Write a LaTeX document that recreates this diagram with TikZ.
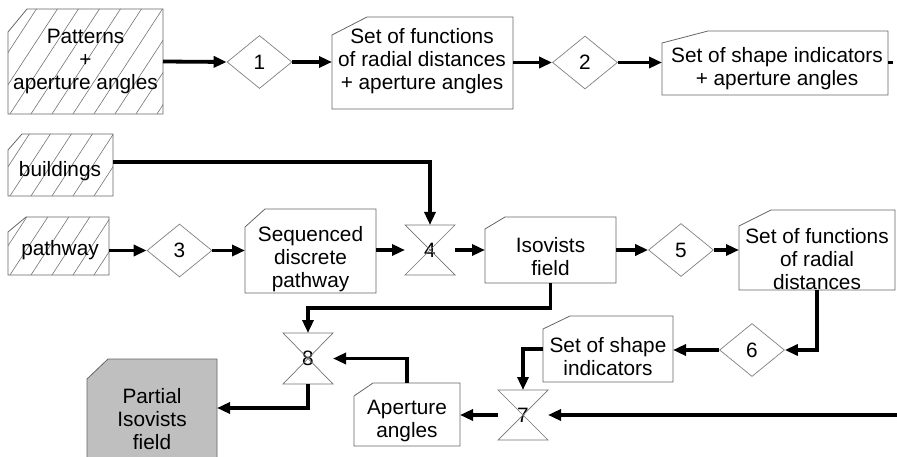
\documentclass[tikz,border=0pt]{standalone}
\usepackage{fontspec}
\setmainfont{Liberation Sans}
\usetikzlibrary{shapes.geometric,arrows.meta,calc}

\tikzset{
  boxline/.style={draw=black!60, line width=0.8pt, fill=white},
  geom/.style={rectangle, draw=none, inner sep=0pt, outer sep=0pt},
  txt/.style={align=center, inner sep=0pt, font=\fontsize{20.8}{23}\selectfont},
  dia/.style={diamond, draw=black!50, line width=0.7pt, fill=white, inner sep=0pt,
              minimum width=65pt, minimum height=53pt, font=\fontsize{20.8}{23}\selectfont},
  hg/.style={geom, minimum width=50pt, minimum height=50pt, font=\fontsize{20.8}{23}\selectfont},
  hgline/.style={draw=black!55, line width=0.7pt},
  flow/.style={line width=3.8pt, -{Triangle[length=13pt,width=11pt]}},
  hatchline/.style={draw=black!55, line width=0.6pt},
}

% #1 name, #2 x1, #3 y1, #4 x2, #5 y2, #6 chamfer dx, #7 chamfer dy, #8 extra style
\newcommand\chamferbox[8]{%
  \path[boxline,#8] (#2,#3+#7) -- (#2+#6,#3) -- (#4,#3) -- (#4,#5) -- (#2,#5) -- cycle;
  \node[geom, minimum width={(#4-#2)*1pt}, minimum height={(#5-#3)*1pt}] (#1)
       at ({(#2+#4)/2},{(#3+#5)/2}) {};
}
% hatching inside a chamfered box
\newcommand\hatchbox[6]{%
  \begin{scope}
    \clip (#1,#2+#6) -- (#1+#5,#2) -- (#3,#2) -- (#3,#4) -- (#1,#4) -- cycle;
    \foreach \k in {-6,...,9} \draw[hatchline] ({#1+\k*21},{#4+3}) -- ++(90,-138);
  \end{scope}
}

\begin{document}
\begin{tikzpicture}[x=1pt,y=-1pt]
\useasboundingbox (0,0) rectangle (897,457);

% ---- boxes ----
\chamferbox{pat}{8}{9}{163}{114}{19}{23}{}
\hatchbox{8}{9}{163}{114}{19}{23}
\node[txt] (pat-t) at (85.5,62) {Patterns\\+\\aperture angles};

\chamferbox{sf1}{332}{17}{513}{109}{35}{18}{}
\node[txt] (sf1-t) at (422,61) {Set of functions\\of radial distances\\+ aperture angles};

\chamferbox{sh1}{662}{31}{888}{95}{46}{12}{}
\node[txt] (sh1-t) at (777,69) {Set of shape indicators\\+ aperture angles};

\chamferbox{bld}{8}{134}{113}{196}{14}{16}{}
\hatchbox{8}{134}{113}{196}{14}{16}
\node[txt] (bld-t) at (60,171) {buildings};

\chamferbox{pth}{8}{217}{109}{275}{18}{15}{}
\hatchbox{8}{217}{109}{275}{18}{15}
\node[txt] (pth-t) at (60,250) {pathway};

\chamferbox{seq}{245}{209}{376}{293}{20}{18}{}
\node[txt] (seq-t) at (310.5,259) {Sequenced\\discrete\\pathway};

\chamferbox{iso}{485}{217}{616}{283}{20}{12}{}
\node[txt] (iso-t) at (550.5,257) {Isovists\\field};

\chamferbox{sf2}{739}{210}{895}{290}{32}{16}{}
\node[txt] (sf2-t) at (817,259) {Set of functions\\of radial\\distances};

\chamferbox{shi}{543}{316}{673}{382}{27}{13}{}
\node[txt] (shi-t) at (608,357) {Set of shape\\indicators};

\chamferbox{ap}{354}{383}{460}{446}{19}{13}{}
\node[txt] (ap-t) at (407,421) {Aperture\\angles};

\chamferbox{par}{87}{359}{217}{462}{21}{20}{fill=black!25}
\node[txt] (par-t) at (152,419) {Partial\\Isovists\\field};

% ---- diamonds ----
\node[dia] (d1) at (259.5,62) {1};
\node[dia] (d2) at (585,62.5) {2};
\node[dia] (d3) at (179.5,250.5) {3};
\node[dia] (d5) at (681,250) {5};
\node[dia] (d6) at (752,350) {6};

% ---- hourglasses ----
\node[hg] (h4) at (430,250) {4};
\node[hg] (h7) at (523,415) {7};
\node[hg, minimum height=51pt] (h8) at (308,358.5) {8};
\foreach \h in {h4,h7,h8}
  \draw[hgline] (\h.north west) -- (\h.north east) -- (\h.south west) -- (\h.south east) -- cycle;

% ---- connectors ----
\draw[flow] (pat.east) -- (d1.west);
\draw[flow] (d1.east) -- (sf1.west |- d1.east);
\draw[flow] (sf1.east |- d2.west) -- (d2.west);
\draw[flow] (d2.east) -- (sh1.west |- d2.east);
\draw[line width=3.8pt] (sh1.east |- d2.east) -- ++(5,0);

\draw[flow] ([yshift=3pt]bld.east) -| (h4.north);
\draw[flow] (pth.east |- d3.west) -- (d3.west);
\draw[flow] (d3.east) -- (seq.west |- d3.east);
\draw[flow] (seq.east |- h4.west) -- (h4.west);
\draw[flow] (h4.east) -- (iso.west);
\draw[flow] (iso.east) -- (d5.west);
\draw[flow] (d5.east) -- (sf2.west);
\draw[flow] (sf2.south) |- (d6.east);
\draw[flow] (d6.west) -- (shi.east |- d6.west);
\draw[flow] (shi.west) -| (h7.north);
\coordinate (rightend) at (897,415);
\draw[flow] (rightend) -- (h7.east);
\draw[flow] (h7.west) -- (ap.east |- h7.west);
\draw[flow] (ap.north) |- (h8.east);
\coordinate (isoturn) at (550.5,308);
\draw[flow] (iso.south) -- (isoturn) -| (h8.north);
\draw[flow] (h8.south) |- (par.east |- 0,408);
\end{tikzpicture}
\end{document}
